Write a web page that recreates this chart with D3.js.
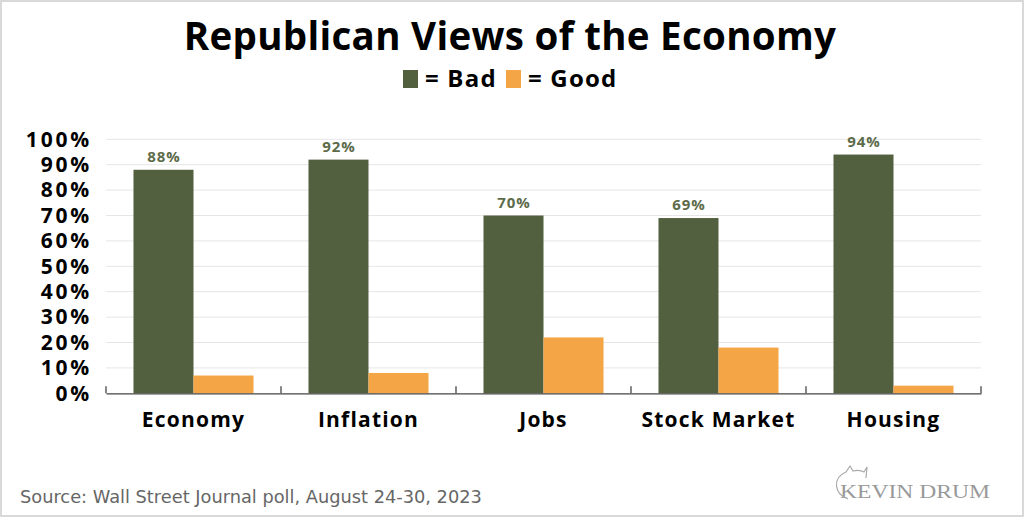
<!DOCTYPE html>
<html><head><meta charset="utf-8">
<script src="https://cdn.jsdelivr.net/npm/d3@7/dist/d3.min.js"></script>
<style>html,body{margin:0;padding:0;background:#fff;} svg{display:block;}</style>
</head><body>
<script>
const categories = ["Economy", "Inflation", "Jobs", "Stock Market", "Housing"];
const seriesNames = ["Bad", "Good"];
const badValues = [88, 92, 70, 69, 94];
const goodValues = [7, 8, 22, 18, 3];
const yTicks = [0, 10, 20, 30, 40, 50, 60, 70, 80, 90, 100];
const colors = {Bad: "#53603f", Good: "#f4a646"};

(function () {
const W = 1024, H = 517;
const svg = d3.select("body").append("svg").attr("width", W).attr("height", H);
svg.append("rect").attr("x", 1).attr("y", 1).attr("width", W - 2).attr("height", H - 2)
  .attr("fill", "#fff").attr("stroke", "#d9d9d9").attr("stroke-width", 2);

const mLeft = 106, mRight = 981, mTop = 139.3, mBottom = 393.3;
const x0 = d3.scaleBand().domain(categories).range([mLeft, mRight]).padding(0);
const x1 = d3.scaleBand().domain(seriesNames).range([0, x0.bandwidth()]).paddingInner(0).paddingOuter(0.458);
const y = d3.scaleLinear().domain([0, 100]).range([mBottom, mTop]);

const font = "'Open Sans', Lato, sans-serif";

svg.append("text").attr("x", 510).attr("y", 50).attr("text-anchor", "middle")
  .attr("font-family", font).attr("font-weight", 700).attr("font-size", 38.5).attr("letter-spacing", 0.3)
  .attr("fill", "#000").text("Republican Views of the Economy");

const leg = svg.append("g").attr("font-family", font).attr("font-weight", 700).attr("font-size", 24).attr("letter-spacing", 1.2);
leg.append("rect").attr("x", 403).attr("y", 70).attr("width", 15).attr("height", 18).attr("fill", colors.Bad);
leg.append("text").attr("x", 425).attr("y", 87).text("= Bad");
leg.append("rect").attr("x", 506).attr("y", 70).attr("width", 15).attr("height", 18).attr("fill", colors.Good);
leg.append("text").attr("x", 528).attr("y", 87).text("= Good");

svg.append("g").selectAll("line").data(yTicks.filter(d => d > 0)).join("line")
  .attr("x1", mLeft).attr("x2", mRight).attr("y1", d => y(d)).attr("y2", d => y(d))
  .attr("stroke", "#e6e6e6").attr("stroke-width", 1);

const yAxis = svg.append("g").attr("transform", `translate(${mLeft},0)`)
  .call(d3.axisLeft(y).tickValues(yTicks).tickFormat(d => d + "%").tickSize(0).tickPadding(14));
yAxis.select(".domain").remove();
yAxis.selectAll("text").attr("font-family", font).attr("font-weight", 700).attr("font-size", 21)
  .attr("letter-spacing", 2.8).attr("fill", "#000");

const rows = categories.map((c, i) => ({cat: c, vals: [{k: "Bad", v: badValues[i]}, {k: "Good", v: goodValues[i]}]}));
const g = svg.append("g").selectAll("g").data(rows).join("g")
  .attr("transform", d => `translate(${x0(d.cat)},0)`);
g.selectAll("rect").data(d => d.vals).join("rect")
  .attr("x", d => x1(d.k)).attr("width", x1.bandwidth())
  .attr("y", d => y(d.v)).attr("height", d => y(0) - y(d.v)).attr("fill", d => colors[d.k]);
g.append("text").attr("x", x1("Bad") + x1.bandwidth() / 2 + 0.5).attr("y", (d, i) => y(badValues[i]) - 8)
  .attr("text-anchor", "middle").attr("font-family", font).attr("font-weight", 700).attr("font-size", 15)
  .attr("letter-spacing", 1).attr("fill", "#5d6b4a").text((d, i) => badValues[i] + "%");

const xAxis = svg.append("g").attr("transform", `translate(0,${mBottom})`)
  .call(d3.axisBottom(x0).tickSize(0).tickPadding(18));
xAxis.select(".domain").attr("stroke", "#444").attr("stroke-width", 1.3);
xAxis.selectAll("text").attr("font-family", font).attr("font-weight", 700).attr("font-size", 21)
  .attr("letter-spacing", 1.2).attr("fill", "#000").attr("dy", "0.75em");
const bounds = categories.map(c => x0(c)).concat([mRight]);
svg.append("g").selectAll("line").data(bounds).join("line")
  .attr("x1", d => d).attr("x2", d => d).attr("y1", mBottom - 7).attr("y2", mBottom)
  .attr("stroke", "#444").attr("stroke-width", 1.3);

svg.append("text").attr("x", 20).attr("y", 503).attr("font-family", "'DejaVu Sans', Verdana, sans-serif")
  .attr("font-size", 17.8).attr("fill", "#666").text("Source: Wall Street Journal poll, August 24-30, 2023");

svg.append("text").attr("x", 840).attr("y", 498).attr("font-family", "'Liberation Serif', serif")
  .attr("font-size", 19).attr("fill", "#999").attr("textLength", 150).attr("lengthAdjust", "spacingAndGlyphs")
  .text("KEVIN DRUM");
svg.append("path").attr("d", "M848,499 C834,494 832,478 846,472 L850,466 L853,471 C857,470 861,470 864,472 L867,467 L866,478")
  .attr("fill", "none").attr("stroke", "#aaa").attr("stroke-width", 1.2);
})();
</script>
</body></html>
